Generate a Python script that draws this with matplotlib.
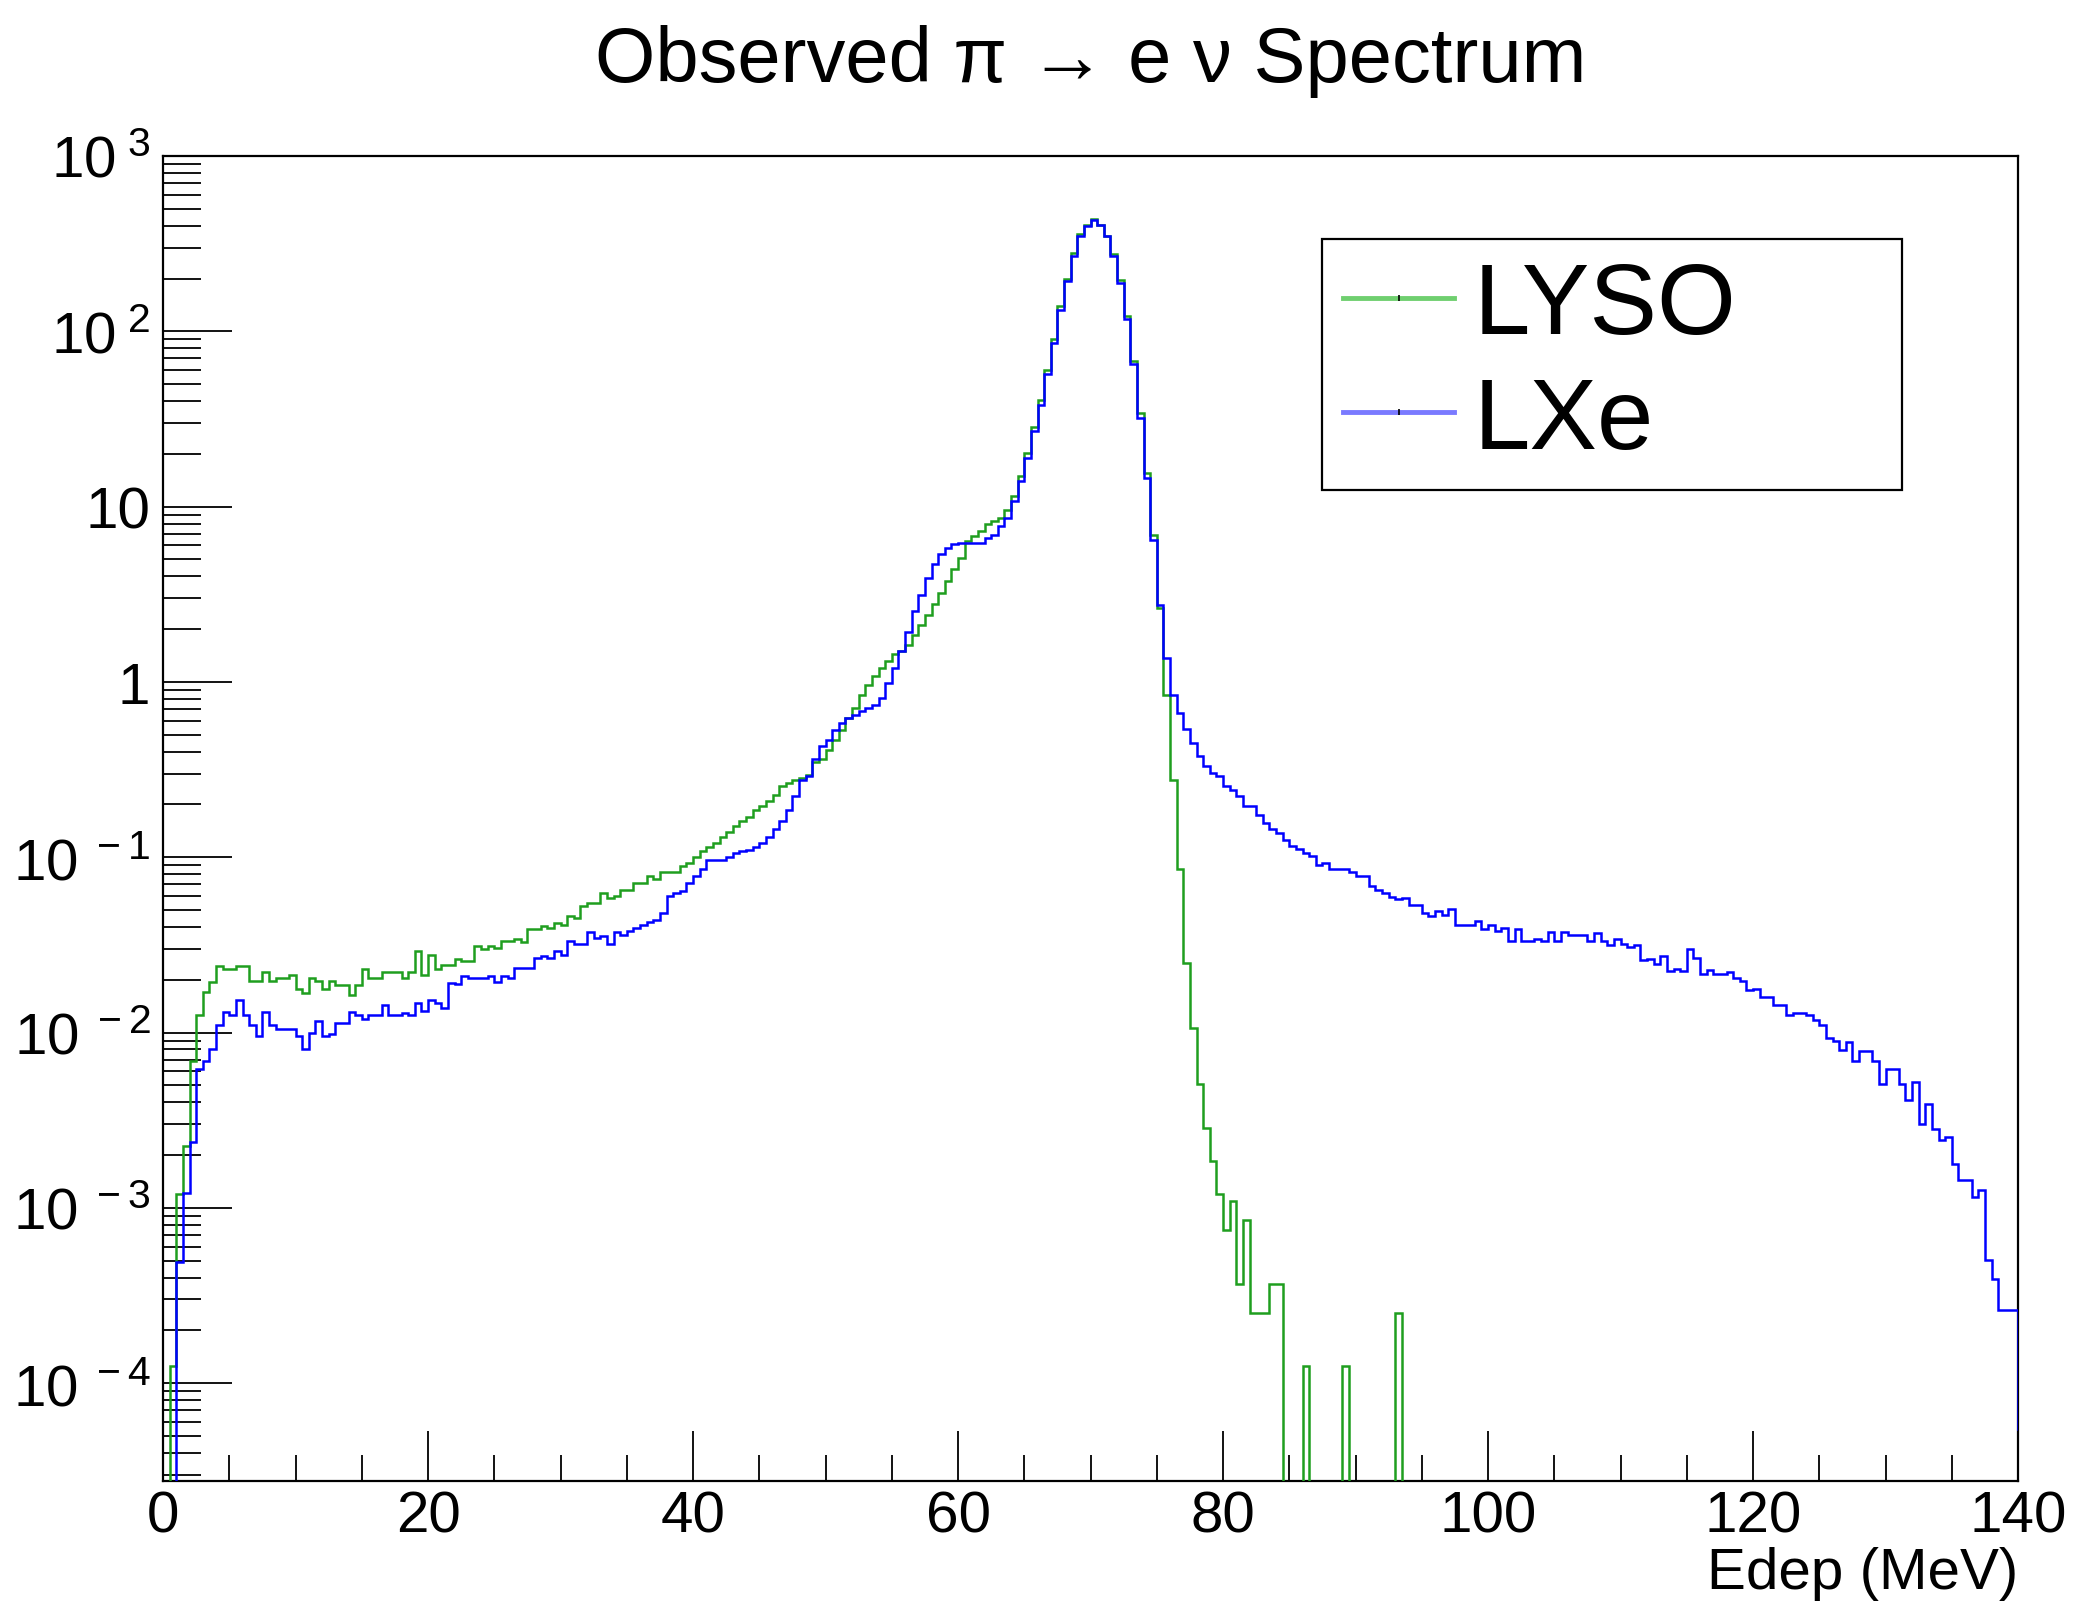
import numpy as np
import matplotlib
matplotlib.use("Agg")
import matplotlib.pyplot as plt
from matplotlib.ticker import MultipleLocator, FixedLocator, FuncFormatter, LogLocator, NullFormatter
from matplotlib.lines import Line2D

# ---------------- data (0.5 MeV bins from 0 to 140 MeV) ----------------
bin_lo = 0.0
bin_hi = 140.0
n_bins = 280

lyso_values = [
    0, 1.25e-4, 1.2e-3, 2.24e-3, 6.84e-3, 0.0126, 0.0171, 0.0194, 0.0240, 0.0231,
    0.0231, 0.0240, 0.0240, 0.0196, 0.0196, 0.0222, 0.0196, 0.0204, 0.0204, 0.0214,
    0.0177, 0.0169, 0.0204, 0.0196, 0.0177, 0.0196, 0.0187, 0.0187, 0.0164, 0.0187,
    0.0231, 0.0204, 0.0204, 0.0222, 0.0222, 0.0222, 0.0204, 0.0222, 0.0290, 0.0212,
    0.0276, 0.0231, 0.0244, 0.0244, 0.0261, 0.0256, 0.0256, 0.0311, 0.0298, 0.0311,
    0.0302, 0.0332, 0.0332, 0.0342, 0.0329, 0.0387, 0.0387, 0.0404, 0.0393, 0.0423,
    0.0408, 0.0465, 0.0451, 0.0526, 0.0549, 0.0549, 0.0626, 0.0587, 0.0604, 0.0654,
    0.0654, 0.0714, 0.0714, 0.0780, 0.0753, 0.0822, 0.0822, 0.0822, 0.0890, 0.0922,
    0.1005, 0.108, 0.115, 0.120, 0.130, 0.140, 0.150, 0.160, 0.170, 0.185,
    0.195, 0.210, 0.225, 0.254, 0.265, 0.277, 0.284, 0.296, 0.348, 0.361,
    0.411, 0.469, 0.535, 0.623, 0.711, 0.847, 0.966, 1.08, 1.20, 1.31,
    1.45, 1.50, 1.63, 1.86, 2.12, 2.42, 2.77, 3.22, 3.76, 4.38,
    5.10, 6.35, 6.78, 7.24, 7.91, 8.26, 8.60, 9.60, 11.5, 15.0,
    20.3, 28.5, 40.5, 60.0, 90.5, 140.0, 200.0, 280.0, 358.0, 402.0,
    436.0, 406.0, 350.0, 275.0, 196.0, 122.0, 68.0, 34.0, 15.5, 6.93,
    2.64, 0.847, 0.277, 0.0859, 0.0248, 0.0106, 5.09e-3, 2.86e-3, 1.84e-3, 1.20e-3,
    7.45e-4, 1.10e-3, 3.70e-4, 8.53e-4, 2.52e-4, 2.52e-4, 2.52e-4, 3.70e-4, 3.70e-4, 0,
    0, 0, 1.26e-4, 0, 0, 0, 0, 0, 1.26e-4, 0,
    0, 0, 0, 0, 0, 0, 2.52e-4, 0, 0, 0,
    0, 0, 0, 0, 0, 0, 0, 0, 0, 0,
    0, 0, 0, 0, 0, 0, 0, 0, 0, 0,
    0, 0, 0, 0, 0, 0, 0, 0, 0, 0,
    0, 0, 0, 0, 0, 0, 0, 0, 0, 0,
    0, 0, 0, 0, 0, 0, 0, 0, 0, 0,
    0, 0, 0, 0, 0, 0, 0, 0, 0, 0,
    0, 0, 0, 0, 0, 0, 0, 0, 0, 0,
    0, 0, 0, 0, 0, 0, 0, 0, 0, 0,
    0, 0, 0, 0, 0, 0, 0, 0, 0, 0,
]

lxe_values = [
    0, 0, 4.9e-4, 1.22e-3, 2.36e-3, 6.18e-3, 6.84e-3, 8.0e-3, 0.0111, 0.0131,
    0.0126, 0.0154, 0.0126, 0.0111, 0.0095, 0.0131, 0.0111, 0.0105, 0.0105, 0.0105,
    0.0095, 0.0080, 0.0100, 0.0116, 0.0095, 0.0098, 0.0114, 0.0114, 0.0131, 0.0126,
    0.0119, 0.0126, 0.0126, 0.0143, 0.0126, 0.0126, 0.0129, 0.0126, 0.0148, 0.0132,
    0.0154, 0.0148, 0.0138, 0.0192, 0.0188, 0.0211, 0.0205, 0.0205, 0.0205, 0.0211,
    0.0194, 0.0211, 0.0205, 0.0234, 0.0234, 0.0234, 0.0267, 0.0272, 0.0267, 0.0291,
    0.0275, 0.0332, 0.0318, 0.0318, 0.0373, 0.0347, 0.0355, 0.0318, 0.0373, 0.0362,
    0.0378, 0.0395, 0.0408, 0.0426, 0.0441, 0.0481, 0.0600, 0.0626, 0.0640, 0.0714,
    0.0780, 0.0859, 0.097, 0.097, 0.097, 0.100, 0.105, 0.108, 0.110, 0.115,
    0.120, 0.130, 0.145, 0.161, 0.187, 0.223, 0.277, 0.290, 0.361, 0.430,
    0.469, 0.535, 0.583, 0.623, 0.651, 0.680, 0.711, 0.743, 0.811, 0.988,
    1.20, 1.50, 1.92, 2.53, 3.15, 3.93, 4.68, 5.34, 5.83, 6.09,
    6.17, 6.17, 6.17, 6.20, 6.64, 6.90, 7.80, 8.63, 10.7, 14.0,
    19.0, 26.9, 38.2, 56.7, 85.9, 133.0, 193.0, 268.0, 349.0, 398.0,
    434.0, 406.0, 349.0, 268.0, 189.0, 117.0, 64.7, 32.1, 14.6, 6.49,
    2.73, 1.37, 0.847, 0.667, 0.536, 0.449, 0.377, 0.330, 0.303, 0.290,
    0.254, 0.243, 0.223, 0.197, 0.197, 0.173, 0.157, 0.144, 0.138, 0.126,
    0.116, 0.112, 0.106, 0.102, 0.0897, 0.0929, 0.0859, 0.0859, 0.0859, 0.0822,
    0.0780, 0.0780, 0.0684, 0.0654, 0.0626, 0.0594, 0.0579, 0.0586, 0.0537, 0.0537,
    0.0482, 0.0465, 0.0492, 0.0471, 0.0507, 0.0408, 0.0408, 0.0408, 0.0431, 0.0390,
    0.0413, 0.0378, 0.0395, 0.0332, 0.0387, 0.0332, 0.0332, 0.0342, 0.0332, 0.0373,
    0.0332, 0.0373, 0.0362, 0.0362, 0.0362, 0.0332, 0.0369, 0.0331, 0.0314, 0.0340,
    0.0319, 0.0306, 0.0314, 0.0258, 0.0263, 0.0247, 0.0272, 0.0224, 0.0231, 0.0224,
    0.0298, 0.0267, 0.0216, 0.0228, 0.0216, 0.0216, 0.0222, 0.0205, 0.0197, 0.0174,
    0.0177, 0.0159, 0.0159, 0.0144, 0.0144, 0.0126, 0.0130, 0.0130, 0.0126, 0.0118,
    0.0110, 0.0093, 0.0090, 0.0079, 0.0088, 0.0069, 0.0078, 0.0078, 0.0069, 0.0051,
    0.0062, 0.0062, 0.0051, 0.0041, 0.0052, 0.0030, 0.0039, 0.0028, 2.43e-3, 2.53e-3,
    1.78e-3, 1.44e-3, 1.44e-3, 1.16e-3, 1.26e-3, 5.06e-4, 3.93e-4, 2.62e-4, 2.62e-4, 2.62e-4,
]
# overflow bin contents (drawn only as the closing vertical line at 140 MeV)
lyso_overflow = 0.0
lxe_overflow = 5.5e-5

series_labels = ["LYSO", "LXe"]
title_text = "Observed \u03c0 \u2192 e \u03bd Spectrum"
xlabel_text = "Edep (MeV)"
x_major_ticks = [0, 20, 40, 60, 80, 100, 120, 140]
y_decades = [-4, -3, -2, -1, 0, 1, 2, 3]

# ---------------- style ----------------
plt.rcParams['font.family'] = ['Liberation Sans', 'DejaVu Sans']
plt.rcParams['mathtext.fontset'] = 'custom'
plt.rcParams['mathtext.rm'] = 'Liberation Sans'
plt.rcParams['mathtext.it'] = 'Liberation Sans:italic'
plt.rcParams['mathtext.bf'] = 'Liberation Sans:bold'
plt.rcParams['mathtext.default'] = 'regular'

W, H = 2080, 1606
fig = plt.figure(figsize=(W / 100, H / 100), dpi=100)
ax_l, ax_r, ax_t, ax_b = 163, 2018, 157, 1482.4
ax = fig.add_axes([ax_l / W, 1 - ax_b / H, (ax_r - ax_l) / W, (ax_b - ax_t) / H])

green = '#1f9e1f'
blue = '#0000ff'

edges = np.linspace(bin_lo, bin_hi + 0.5, n_bins + 2)
tiny = 1e-12

def prep(vals, ovf):
    v = np.array(list(vals) + [ovf], dtype=float)
    return np.where(v > 0, v, tiny)

ax.stairs(prep(lyso_values, lyso_overflow), edges, baseline=None, color=green, lw=1.8, zorder=3)
ax.stairs(prep(lxe_values, lxe_overflow), edges, baseline=None, color=blue, lw=1.8, zorder=4)

ax.set_yscale('log')
ax.set_xlim(0, 140)
ax.set_ylim(2.75e-5, 1000)

# ticks
ax.xaxis.set_major_locator(FixedLocator(x_major_ticks))
ax.xaxis.set_minor_locator(MultipleLocator(5))
ax.yaxis.set_major_locator(FixedLocator([10.0 ** e for e in y_decades]))
ax.yaxis.set_minor_locator(LogLocator(base=10, subs=np.arange(2, 10), numticks=50))
ax.yaxis.set_minor_formatter(NullFormatter())

def yfmt(v, pos):
    e = int(round(np.log10(v)))
    if e == 0:
        return '1'
    if e == 1:
        return '10'
    return r'$10^{\ %d}$' % e

ax.yaxis.set_major_formatter(FuncFormatter(yfmt))
ax.xaxis.set_major_formatter(FuncFormatter(lambda v, p: '%d' % v))

ax.tick_params(axis='x', which='major', direction='in', length=36, width=1.3,
               top=False, labelsize=42, pad=6)
ax.tick_params(axis='x', which='minor', direction='in', length=19, width=1.3, top=False)
ax.tick_params(axis='y', which='major', direction='in', length=50, width=1.3,
               right=False, labelsize=42, pad=9)
ax.tick_params(axis='y', which='minor', direction='in', length=27, width=1.3, right=False)

for s in ax.spines.values():
    s.set_linewidth(1.6)
    s.set_color('black')

# title and axis label
fig.text((ax_l + ax_r) / 2 / W, 1 - 82 / H, title_text, ha='center', va='baseline',
         fontsize=56)
fig.text(ax_r / W, 1 - 1589 / H, xlabel_text, ha='right', va='baseline', fontsize=42)

# legend
handles = [
    Line2D([], [], color='#6fcf6f', lw=3.5, marker='|', markersize=5, mec='black', mew=1.2),
    Line2D([], [], color='#7a7aff', lw=3.5, marker='|', markersize=5, mec='black', mew=1.2),
]
lx0 = (1322 - ax_l) / (ax_r - ax_l)
lx1 = (1902 - ax_l) / (ax_r - ax_l)
ly1 = (ax_b - 240) / (ax_b - ax_t)
leg = ax.legend(handles, series_labels, loc='upper left',
                bbox_to_anchor=(lx0, ly1, lx1 - lx0, 0.0), mode='expand',
                borderaxespad=0.0, fontsize=73, handlelength=1.09, handletextpad=0.2,
                labelspacing=0.2, borderpad=0.21, numpoints=1,
                fancybox=False, framealpha=1.0, edgecolor='black')
leg.get_frame().set_linewidth(1.6)

fig.savefig('out.png', dpi=100)
